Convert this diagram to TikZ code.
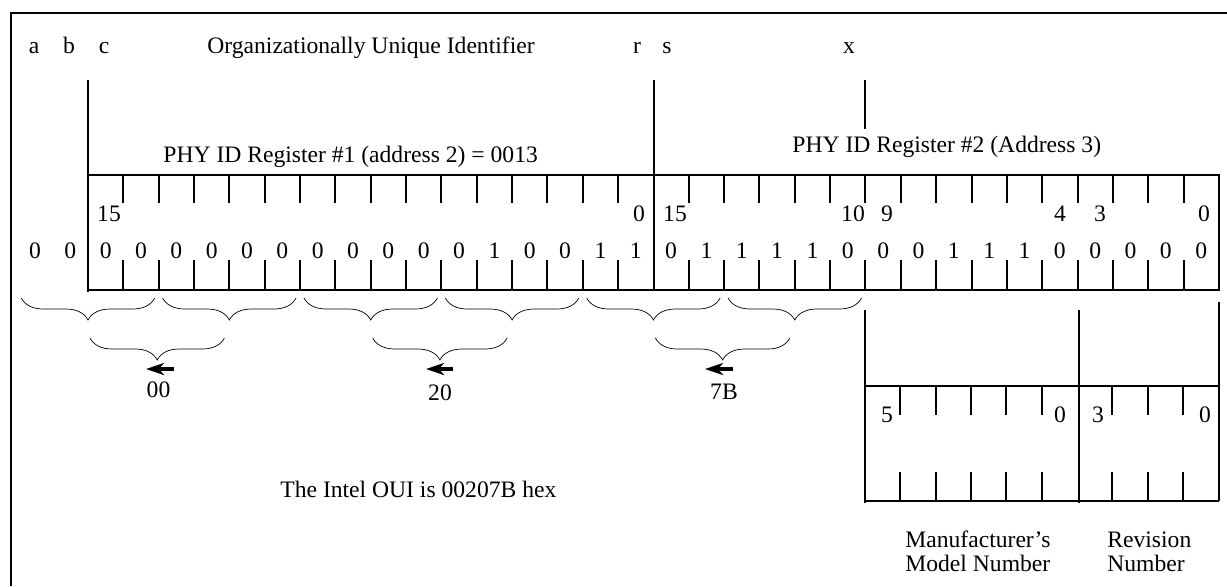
\documentclass[tikz,border=0pt]{standalone}
\usepackage{fontspec}
\setmainfont{Liberation Serif}
\usetikzlibrary{arrows.meta,decorations.pathreplacing,calc}
\def\cw{35.34}
\tikzset{
  txt/.style     ={font=\fontsize{11.8}{12}\selectfont, inner sep=0pt, anchor=base},
  txtw/.style    ={txt, anchor=base west},
  regline/.style ={line width=1pt},
  bittick/.style ={line width=1pt},
  nibble/.style  ={decorate, decoration={brace, mirror, amplitude=11pt}, line width=0.35pt},
  pickarr/.style ={-{Stealth[length=9pt,width=6pt,inset=2.5pt]}, line width=1.6pt},
}
\begin{document}
\begin{tikzpicture}[x=0.5pt,y=-0.5pt]
\useasboundingbox (0,0) rectangle (1227,586);
\draw[line width=1.1pt] (11,586) -- (11,13) -- (1227,13);
% header letters
\node[txt] (la) at (34,53) {a};
\node[txt] (lb) at (69,53) {b};
\node[txt] (lc) at (104,53) {c};
\node[txtw] (oui) at (207,53) {Organizationally Unique Identifier};
\node[txt] (lr) at (637,53) {r};
\node[txt] (ls) at (667,53) {s};
\node[txt] (lx) at (849,53) {x};
\node[txtw] (reg1) at (163,162) {PHY ID Register \#1 (address 2) = 0013};
\node[txtw] (reg2) at (792,152) {PHY ID Register \#2 (Address 3)};
% register frame
\draw[regline] (88,80) -- (88,292);
\draw[regline] (654,80) -- (654,290);
\draw[regline] (865,80) -- (865,129);
\draw[regline] (88,175) -- (1219,175) -- (1219,290) -- (88,290);
\foreach \k in {1,...,15,17,18,...,31} {
  \draw[bittick] ({88+\k*\cw},175) -- ({88+\k*\cw},203);
  \draw[bittick] ({88+\k*\cw},260) -- ({88+\k*\cw},290);
}
% bit numbers
\foreach \t/\xx in {15/109,0/639,15/675,10/853,9/887,4/1060,3/1100,0/1204}
  \node[txt] at (\xx,221) {\t};
% bit values
\foreach \b [count=\k from -2] in {0,0, 0,0,0,0,0,0,0,0,0,0,0,1,0,0,1,1, 0,1,1,1,1,0,0,0,1,1,1,0,0,0,0,0}
  \node[txt] (bit\k) at ({88+(\k+0.5)*\cw},258) {\b};
% nibble braces
\foreach \j in {0,...,5}
  \draw[nibble] ({88+(4*\j-2)*\cw+4},298) -- ({88+(4*\j+2)*\cw-4},298);
\foreach \j in {0,2,4}
  \draw[nibble] ({88+4*\j*\cw+2},338) -- ({88+(4*\j+4)*\cw-5},338);
% octets
\coordinate (t00) at (174,369); \coordinate (h00) at (146,369);
\coordinate (t20) at (453,369); \coordinate (h20) at (426,369);
\coordinate (t7B) at (733,369); \coordinate (h7B) at (705,369);
\draw[pickarr] (t00) -- (h00);
\draw[pickarr] (t20) -- (h20);
\draw[pickarr] (t7B) -- (h7B);
\node[txt] (o00) at (158.5,397) {00};
\node[txt] (o20) at (440,400) {20};
\node[txt] (o7B) at (724,399) {7B};
\node[txtw] (intel) at (280,497) {The Intel OUI is 00207B hex};
% model / revision
\draw[regline] (865,310) -- (865,503);
\draw[regline] (1079,310) -- (1079,503);
\draw[regline] (1219,302) -- (1219,501);
\draw[regline] (865,386) -- (1219,386);
\draw[regline] (865,501) -- (1219,501);
\foreach \k in {1,...,5,7,8,9} {
  \draw[bittick] ({865+\k*\cw},386) -- ({865+\k*\cw},415);
  \draw[bittick] ({865+\k*\cw},472) -- ({865+\k*\cw},501);
}
\foreach \t/\xx in {5/887,0/1060,3/1098,0/1205}
  \node[txt] at (\xx,422) {\t};
\node[txtw] (mfr1) at (905,547) {Manufacturer’s};
\node[txtw] (mfr2) at (905,571) {Model Number};
\node[txtw] (rev1) at (1107,547) {Revision};
\node[txtw] (rev2) at (1107,571) {Number};
\end{tikzpicture}
\end{document}
